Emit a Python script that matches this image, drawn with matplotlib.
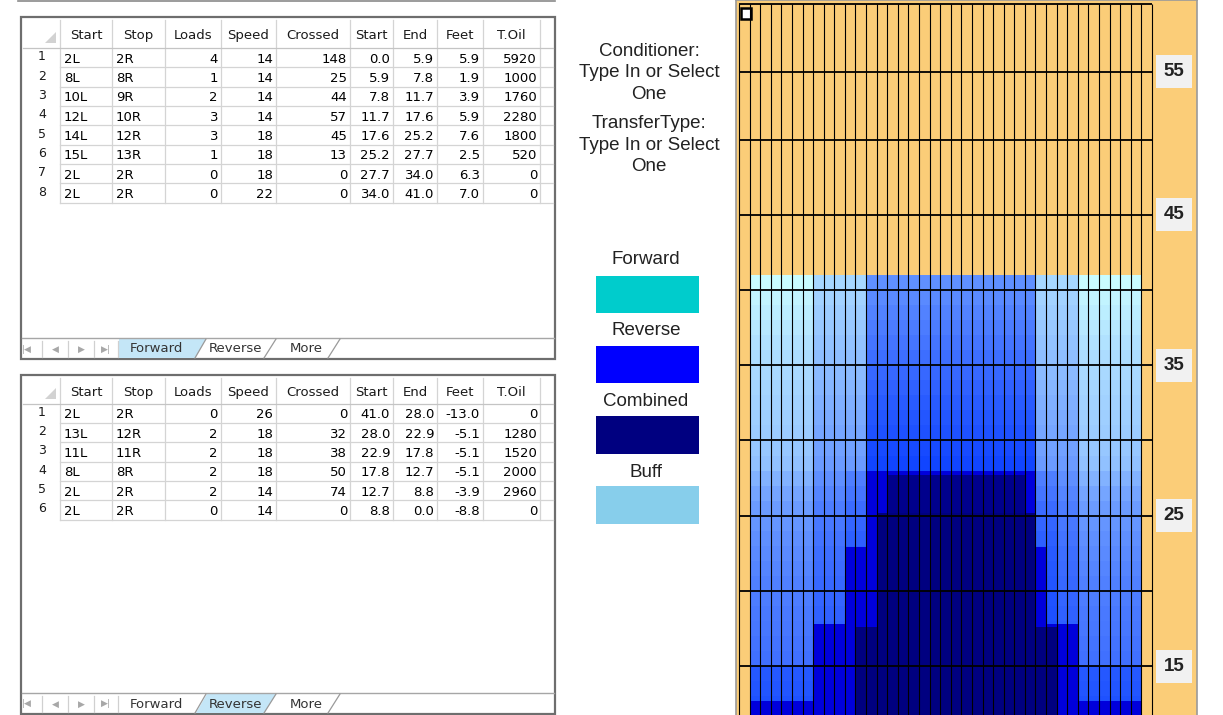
import numpy as np
import matplotlib
matplotlib.use('Agg')
import matplotlib.pyplot as plt
from matplotlib.colors import LinearSegmentedColormap
from matplotlib.patches import Rectangle, Polygon

plt.rcParams['font.family'] = ['DejaVu Sans']

headers = ['Start', 'Stop', 'Loads', 'Speed', 'Crossed', 'Start', 'End', 'Feet', 'T.Oil']
sheet_tabs = ['Forward', 'Reverse', 'More']

# forward sheet
fwd_start = ['2L', '8L', '10L', '12L', '14L', '15L', '2L', '2L']
fwd_stop = ['2R', '8R', '9R', '10R', '12R', '13R', '2R', '2R']
fwd_loads = [4, 1, 2, 3, 3, 1, 0, 0]
fwd_speed = [14, 14, 14, 14, 18, 18, 18, 22]
fwd_crossed = [148, 25, 44, 57, 45, 13, 0, 0]
fwd_from = [0.0, 5.9, 7.8, 11.7, 17.6, 25.2, 27.7, 34.0]
fwd_to = [5.9, 7.8, 11.7, 17.6, 25.2, 27.7, 34.0, 41.0]
fwd_feet = [5.9, 1.9, 3.9, 5.9, 7.6, 2.5, 6.3, 7.0]
fwd_oil = [5920, 1000, 1760, 2280, 1800, 520, 0, 0]

# reverse sheet
rev_start = ['2L', '13L', '11L', '8L', '2L', '2L']
rev_stop = ['2R', '12R', '11R', '8R', '2R', '2R']
rev_loads = [0, 2, 2, 2, 2, 0]
rev_speed = [26, 18, 18, 18, 14, 14]
rev_crossed = [0, 32, 38, 50, 74, 0]
rev_from = [41.0, 28.0, 22.9, 17.8, 12.7, 8.8]
rev_to = [28.0, 22.9, 17.8, 12.7, 8.8, 0.0]
rev_feet = [-13.0, -5.1, -5.1, -5.1, -3.9, -8.8]
rev_oil = [0, 1280, 1520, 2000, 2960, 0]

# legend
legend_names = ['Forward', 'Reverse', 'Combined', 'Buff']
legend_colors = ['#00cccc', '#0000ff', '#000080', '#87ceeb']
notes = ['Conditioner:', 'Type In or Select', 'One',
         'TransferType:', 'Type In or Select', 'One']

# lane: 39 boards, tier of buffed oil per board (-1 = dry)
n_boards = 39
board_tier = [-1] + [0] * 6 + [1] * 3 + [2] * 2 + [3] * 16 + [2] * 2 + [1] * 2 + [0] * 6 + [-1]
# buffed oil shade per foot (11..40) for each tier
buff_edge = [5.4, 5.3, 5.15, 5.0, 4.25, 4.15, 4.05, 3.95, 3.85, 3.75, 3.6, 3.45, 3.3, 3.1,
             2.9, 2.6, 2.2, 1.75, 1.55, 1.4, 1.3, 1.2, 1.1, 1.0, 0.9, 0.75, 0.6, 0.45, 0.3, 0.1]
buff_mid = [5.0, 5.0, 5.0, 5.0, 4.9, 4.85, 4.8, 4.7, 4.6, 4.5, 4.4, 4.3, 4.15, 4.0,
            3.85, 3.6, 3.3, 2.9, 2.7, 2.55, 2.4, 2.25, 2.1, 1.95, 1.8, 1.65, 1.5, 1.35, 1.2, 1.05]
buff_inner = [5.4, 5.4, 5.4, 5.4, 5.4, 5.4, 5.4, 5.35, 5.25, 5.15, 5.05, 4.95, 4.8, 4.6,
              4.4, 4.1, 3.8, 2.9, 2.7, 2.55, 2.4, 2.25, 2.1, 1.95, 1.8, 1.65, 1.5, 1.35, 1.2, 1.05]
buff_center = [6.0, 6.0, 6.0, 6.0, 6.0, 6.0, 6.0, 6.0, 6.0, 6.0, 6.0, 6.0, 6.0, 6.0,
               6.0, 6.0, 6.0, 5.8, 5.55, 5.3, 5.1, 4.9, 4.7, 4.5, 4.3, 4.1, 3.9, 3.7, 3.45, 3.25]
label_ft = [15, 25, 35, 45, 55]

orange = '#fbcd78'
txt = '#222222'

fig = plt.figure(figsize=(12.23, 7.15), dpi=100)

# ---------- sheets + legend drawn in pixel space ----------
ui = fig.add_axes([0, 0, 1, 1])
ui.set_xlim(0, 1223)
ui.set_ylim(715, 0)
ui.set_axis_off()

ui.plot([18, 555], [1, 1], color='#8a8a8a', lw=1.2)

col_x = [23, 60, 112, 165, 221, 276, 350, 393, 437, 483, 540]


def fmt_cols(cols):
    out = []
    for j, c in enumerate(cols):
        if j < 2:
            out.append(list(c))
        elif j in (5, 6, 7):
            out.append(['%.1f' % v for v in c])
        else:
            out.append([str(v) for v in c])
    return out


def draw_sheet(top, bottom, head_top, head_bot, cols, active):
    row_h = 19.35
    n = len(cols[0])
    data_bot = head_bot + n * row_h
    ui.add_patch(Rectangle((21, top), 534, bottom - top, fill=False, ec='#6e6e6e', lw=1.6))
    for x in col_x[1:]:
        ui.plot([x, x], [head_top, data_bot], color='#d4d4d4', lw=0.9)
    ui.plot([23, 553], [head_bot, head_bot], color='#c4c4c4', lw=0.9)
    for i in range(1, n + 1):
        y = head_bot + i * row_h
        ui.plot([60, 553], [y, y], color='#d4d4d4', lw=0.9)
    ui.add_patch(Polygon([(45, head_bot - 5), (56, head_bot - 5), (56, head_bot - 16)],
                         closed=True, color='#d2d2d2', lw=0))
    hy = (head_top + head_bot) / 2 + 1.5
    for j, h in enumerate(headers):
        ui.text((col_x[j + 1] + col_x[j + 2]) / 2, hy, h, ha='center', va='center',
                fontsize=9.5, color='#1a1a1a')
    for i in range(n):
        y = head_bot + (i + 0.5) * row_h
        ui.text(42, y - 1, str(i + 1), ha='center', va='center', fontsize=9, color='#1a1a1a')
        for j, c in enumerate(cols):
            if j < 2:
                ui.text(col_x[j + 1] + 4, y + 1.5, c[i], ha='left', va='center',
                        fontsize=9.5, color='#000000')
            else:
                ui.text(col_x[j + 2] - 3, y + 1.5, c[i], ha='right', va='center',
                        fontsize=9.5, color='#000000')
    # sheet tab bar
    bt = bottom - 21
    ui.plot([22, 554], [bt, bt], color='#a6a6a6', lw=1.0)
    ty = bt + 11
    for x, g in zip([27, 55, 81, 106], ['|\u25c0', '\u25c0', '\u25b6', '\u25b6|']):
        ui.text(x, ty, g, ha='center', va='center', fontsize=6.5, color='#a8a8a8')
    for x in [42, 68, 94, 118]:
        ui.plot([x, x], [bt + 3, bottom - 2], color='#d0d0d0', lw=0.9)
    slant_b = [118, 195, 264, 328]
    slant_t = [118, 206, 276, 340]
    k = sheet_tabs.index(active)
    ui.add_patch(Polygon([(slant_b[k] + 1, bottom - 1), (slant_t[k] + 1, bt + 1),
                          (slant_t[k + 1], bt + 1), (slant_b[k + 1], bottom - 1)],
                         closed=True, color='#c4e6f7', lw=0))
    for xb, xt in zip(slant_b[1:], slant_t[1:]):
        ui.plot([xb, xt], [bottom - 1, bt + 1], color='#9a9a9a', lw=0.9)
    for x, name in zip([156, 236, 306], sheet_tabs):
        ui.text(x, ty, name, ha='center', va='center', fontsize=9.5, color='#333333')


fwd_cols = fmt_cols([fwd_start, fwd_stop, fwd_loads, fwd_speed, fwd_crossed,
                     fwd_from, fwd_to, fwd_feet, fwd_oil])
rev_cols = fmt_cols([rev_start, rev_stop, rev_loads, rev_speed, rev_crossed,
                     rev_from, rev_to, rev_feet, rev_oil])
draw_sheet(17, 359, 20, 48, fwd_cols, 'Forward')
draw_sheet(375, 714, 378, 403.5, rev_cols, 'Reverse')

# legend column
for i, line in enumerate(notes[:3]):
    ui.text(649, 51.5 + 21.3 * i, line, ha='center', va='center', fontsize=13.5,
            family='Liberation Sans', color=txt)
for i, line in enumerate(notes[3:]):
    ui.text(649, 124 + 21.3 * i, line, ha='center', va='center', fontsize=13.5,
            family='Liberation Sans', color=txt)
for i, (name, c) in enumerate(zip(legend_names, legend_colors)):
    ui.text(646, 259.5 + 71 * i, name, ha='center', va='center', fontsize=13.5,
            family='Liberation Sans', color=txt)
    ui.add_patch(Rectangle((596, 275.5 + 70.3 * i), 103, 37.5, fc=c, ec='none'))

# ---------- lane oil chart ----------
ax = fig.add_axes([736 / 1223, 0, 461 / 1223, 1])
ax.set_facecolor(orange)


def squash(y):
    y = np.asarray(y, float)
    return np.where(y > 50, 50 + (y - 50) * 0.9, y)


def unsquash(u):
    u = np.asarray(u, float)
    return np.where(u > 50, 50 + (u - 50) / 0.9, u)


ax.set_yscale('function', functions=(squash, unsquash))


def board_no(lane):
    n = int(lane[:-1])
    return n if lane.endswith('L') else n_boards + 1 - n


y_edges = np.linspace(0, 41, 411)
y_mid = (y_edges[:-1] + y_edges[1:]) / 2
loads = np.zeros((len(y_mid), n_boards))
passes = zip(fwd_start + rev_start, fwd_stop + rev_stop, fwd_loads + rev_loads,
             fwd_from + rev_from, fwd_to + rev_to)
for s, e, ld, a, b in passes:
    b0, b1 = sorted((board_no(s), board_no(e)))
    lo, hi = sorted((a, b))
    rows = (y_mid >= lo) & (y_mid < hi)
    loads[np.ix_(rows, np.arange(b0 - 1, b1))] += ld

tiers = np.array([buff_edge, buff_mid, buff_inner, buff_center])
ft_idx = np.clip(np.floor(y_mid).astype(int) - 11, 0, tiers.shape[1] - 1)
tier = np.array(board_tier)
shade = tiers[np.clip(tier, 0, 3)][:, ft_idx].T
value = np.where(loads > 0, 5 + loads, shade)
value = np.ma.masked_where(np.broadcast_to(tier < 0, value.shape), value)

cmap = LinearSegmentedColormap.from_list('oil', [
    (0.0, '#ccffff'), (0.1, '#a8d8ff'), (0.2, '#88b8ff'), (0.3, '#6898ff'),
    (0.4, '#4878ff'), (0.5, '#2658ff'), (0.6, '#0c40ff'), (0.7, '#0000dd'),
    (0.8, '#00008c'), (1.0, '#000080')])
ax.pcolormesh(np.arange(n_boards + 1), y_edges, value, cmap=cmap, vmin=0, vmax=10,
              shading='flat')

ax.vlines(np.arange(n_boards + 1), 0, 60, colors='black', lw=0.8)
ax.hlines(np.arange(15, 61, 5), 0, n_boards, colors='black', lw=1.3)

for v in label_ft:
    ax.text(41.08, v, str(v), ha='center', va='center', fontsize=13.5, fontweight='bold',
            family='Liberation Sans', color='#222222',
            bbox=dict(boxstyle='square,pad=0.42', fc='#f1f1f1', ec='none'))

ax.add_patch(Rectangle((0.010, 0.974), 0.023, 0.015, transform=ax.transAxes,
                       fc='white', ec='black', lw=1.8))

ax.set_xlim(-0.28, 43.25)
ax.set_ylim(11.76, 60.3)
ax.set_xticks([])
ax.set_yticks([])
ax.yaxis.set_minor_locator(matplotlib.ticker.NullLocator())
for side in ['left', 'right', 'top']:
    ax.spines[side].set_color('#9a9a9a')
    ax.spines[side].set_linewidth(1.2)
ax.spines['bottom'].set_visible(False)

fig.savefig('out.png', dpi=100)
